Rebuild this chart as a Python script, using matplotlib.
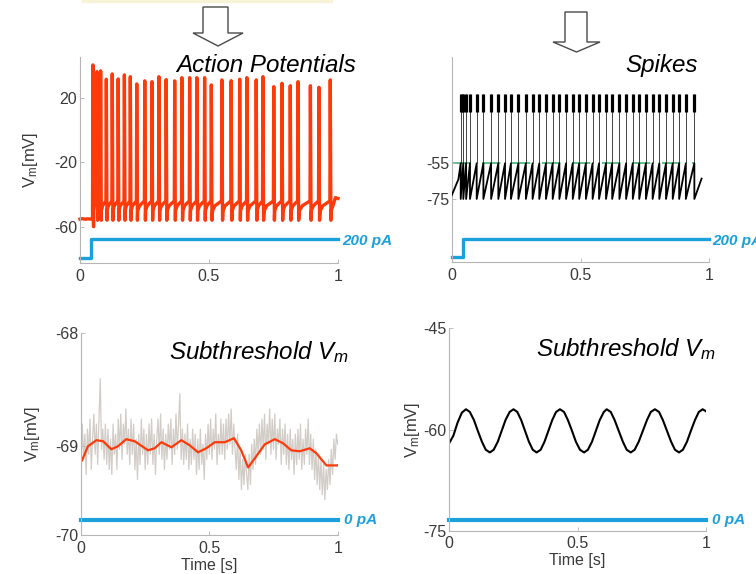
import numpy as np
import matplotlib
matplotlib.use('Agg')
import matplotlib.pyplot as plt
from matplotlib.patches import Polygon, Rectangle

plt.rcParams['font.family'] = ['Liberation Sans', 'DejaVu Sans']
plt.rcParams['mathtext.fontset'] = 'custom'
plt.rcParams['mathtext.rm'] = 'Liberation Sans'
plt.rcParams['mathtext.it'] = 'Liberation Sans:italic'

W, H = 756, 574
RED = '#ff3a0a'
BLUE = '#1aa0dc'
GRID = '#b5b5b5'
TXT = '#3a3a3a'

# --- action potentials (top left) ---
ap_times = [0.050, 0.066, 0.080, 0.102, 0.125, 0.148, 0.172, 0.195, 0.220, 0.251,
            0.279, 0.306, 0.334, 0.367, 0.395, 0.425, 0.453, 0.483, 0.509, 0.550,
            0.586, 0.619, 0.647, 0.683, 0.709, 0.751, 0.783, 0.815, 0.845, 0.893,
            0.926, 0.970]
ap_peaks = [40.3, 36.1, 36.6, 31.4, 34.7, 31.6, 34.1, 33.0, 28.5, 30.4,
            29.9, 33.0, 31.2, 30.4, 32.4, 32.4, 32.4, 32.4, 27.9, 31.0,
            30.5, 31.4, 32.4, 31.0, 33.0, 26.8, 28.9, 27.4, 29.9, 27.4,
            26.4, 31.0]
ap_base_t = [0.0, 0.010, 0.020, 0.030, 0.041]
ap_base_v = [-55.3, -55.0, -55.4, -55.1, -55.3]
ap_end_t = [0.990, 1.000]
ap_end_v = [-42.0, -42.5]
ap_rest, ap_pre, ap_ahp, ap_kink = -55.0, -44.0, -47.0, -50.0
ap_first_trough, ap_trough = -60.0, -56.0
ap_stim_t = [0.0, 0.041, 1.0]
ap_stim_v = [-79.2, -67.6, -67.6]

# --- integrate-and-fire spikes (top right) ---
sp_times = [0.035, 0.045, 0.056, 0.071, 0.097, 0.123, 0.153, 0.181, 0.207, 0.230,
            0.259, 0.288, 0.314, 0.340, 0.366, 0.392, 0.418, 0.444, 0.470, 0.495,
            0.521, 0.547, 0.572, 0.599, 0.623, 0.651, 0.677, 0.703, 0.728, 0.754,
            0.780, 0.806, 0.832, 0.858, 0.883, 0.909, 0.942]
sp_start_t = [0.0, 0.026]
sp_start_v = [-73.0, -64.0]
sp_end_t, sp_end_v = 0.970, -63.6
sp_thresh, sp_reset, sp_top, sp_bar = -55.0, -75.0, -16.1, -26.4
sp_stim_t = [0.0, 0.044, 1.0]
sp_stim_v = [-107.5, -97.4, -97.4]

# --- subthreshold recording (bottom left) ---
sub_raw = [
    -69.30, -68.90, -69.25, -69.00, -69.40, -68.95, -69.20, -68.85, -69.35, -69.05,
    -68.80, -69.20, -68.90, -69.30, -68.85, -68.45, -69.15, -68.95, -69.25, -68.90,
    -69.30, -68.95, -69.35, -69.05, -69.40, -68.90, -69.20, -69.00, -69.35, -68.85,
    -69.15, -68.80, -69.25, -68.90, -69.10, -68.75, -69.20, -68.95, -69.30, -68.85,
    -69.20, -68.90, -69.35, -69.05, -69.45, -69.00, -69.30, -68.85, -69.20, -68.95,
    -69.35, -69.00, -69.30, -68.90, -69.20, -68.85, -69.30, -69.00, -69.40, -69.05,
    -68.85, -69.20, -68.80, -69.25, -68.95, -69.35, -69.00, -69.25, -68.90, -69.15,
    -68.85, -69.30, -68.95, -69.20, -68.80, -69.15, -68.90, -68.60, -69.25, -68.95,
    -69.30, -69.00, -69.25, -68.90, -69.35, -69.05, -69.30, -68.95, -69.25, -69.00,
    -69.40, -69.05, -69.35, -68.95, -69.30, -69.10, -69.45, -69.00, -69.25, -68.90,
    -69.20, -68.85, -69.25, -68.95, -69.15, -68.80, -69.30, -69.00, -69.20, -68.85,
    -69.20, -68.90, -69.25, -68.85, -69.15, -68.80, -69.10, -68.75, -69.20, -68.90,
    -69.15, -69.35, -69.00, -69.45, -69.15, -69.55, -69.25, -69.50, -69.20, -69.40,
    -69.55, -69.20, -69.50, -69.10, -69.35, -69.05, -69.30, -68.95, -69.20, -68.90,
    -69.20, -68.85, -69.15, -68.80, -69.25, -68.90, -69.10, -68.75, -69.20, -68.85,
    -69.15, -68.80, -69.25, -68.95, -69.10, -68.85, -69.30, -68.95, -69.20, -68.90,
    -69.30, -69.00, -69.35, -68.95, -69.25, -69.05, -69.40, -69.00, -69.30, -68.95,
    -69.25, -68.90, -69.35, -69.05, -69.30, -68.95, -69.20, -68.85, -69.30, -69.00,
    -69.35, -69.05, -69.45, -69.15, -69.50, -69.20, -69.55, -69.25, -69.60, -69.30,
    -69.65, -69.35, -69.55, -69.25, -69.50, -69.15, -69.40, -69.05, -69.25, -69.00,
    -69.10]
sub_fit_t = [0.004, 0.027, 0.060, 0.086, 0.118, 0.144, 0.176, 0.209, 0.261, 0.287,
             0.313, 0.352, 0.391, 0.423, 0.456, 0.488, 0.521, 0.560, 0.596, 0.624,
             0.651, 0.677, 0.716, 0.755, 0.787, 0.819, 0.852, 0.891, 0.917, 0.956,
             0.998]
sub_fit_v = [-69.26, -69.12, -69.06, -69.07, -69.15, -69.12, -69.05, -69.07, -69.16, -69.14,
             -69.08, -69.13, -69.06, -69.11, -69.18, -69.14, -69.08, -69.08, -69.04, -69.16,
             -69.33, -69.24, -69.10, -69.05, -69.09, -69.16, -69.17, -69.14, -69.19, -69.31,
             -69.31]
sub_stim = -69.85

# --- model subthreshold oscillation (bottom right) ---
osc_t = [0.000, 0.016, 0.032, 0.049, 0.065, 0.080, 0.096, 0.111, 0.127, 0.142,
         0.158, 0.173, 0.189, 0.204, 0.219, 0.235, 0.250, 0.265, 0.280, 0.295,
         0.310, 0.325, 0.340, 0.356, 0.371, 0.386, 0.401, 0.416, 0.431, 0.447,
         0.462, 0.478, 0.493, 0.509, 0.525, 0.540, 0.556, 0.571, 0.586, 0.602,
         0.613, 0.629, 0.644, 0.660, 0.676, 0.691, 0.707, 0.722, 0.738, 0.754,
         0.770, 0.785, 0.801, 0.817, 0.832, 0.848, 0.864, 0.879, 0.895, 0.910,
         0.926, 0.941, 0.957, 0.972, 0.987, 1.000]
osc_v = [-62.0, -60.9, -59.0, -57.5, -57.0, -57.4, -58.6, -60.2, -61.8, -63.0,
         -63.4, -63.0, -61.8, -60.2, -58.6, -57.4, -57.0, -57.4, -58.6, -60.2,
         -61.8, -63.0, -63.4, -63.0, -61.8, -60.2, -58.6, -57.4, -57.0, -57.4,
         -58.6, -60.2, -61.8, -63.0, -63.4, -63.0, -61.8, -60.2, -58.6, -57.4,
         -57.0, -57.4, -58.6, -60.2, -61.8, -63.0, -63.4, -63.0, -61.8, -60.2,
         -58.6, -57.4, -57.0, -57.4, -58.6, -60.2, -61.8, -63.0, -63.4, -63.0,
         -61.8, -60.2, -58.6, -57.4, -57.0, -57.3]
osc_stim = -73.4


def box(x0, y0, x1, y1):
    return [x0 / W, 1 - y1 / H, (x1 - x0) / W, (y1 - y0) / H]


def pos(x, y):
    return x / W, 1 - y / H


def style(ax, yticks, ylabels, ylim):
    ax.set_xlim(0, 1)
    ax.set_ylim(*ylim)
    ax.patch.set_visible(False)
    for s in ['top', 'right']:
        ax.spines[s].set_visible(False)
    for s in ['left', 'bottom']:
        ax.spines[s].set_color(GRID)
        ax.spines[s].set_linewidth(0.8)
    ax.set_xticks([0, 0.5, 1], ['0', '0.5', '1'])
    ax.set_yticks(yticks, ylabels)
    ax.tick_params(direction='in', length=3, width=0.6, color=GRID,
                   labelcolor=TXT, labelsize=11.5)
    ax.tick_params(axis='x', pad=4)
    ax.tick_params(axis='y', pad=2)


def ap_trace():
    t, v = list(ap_base_t), list(ap_base_v)
    for i, (ts, pk) in enumerate(zip(ap_times, ap_peaks)):
        pre = ap_rest if i == 0 else ap_pre
        low = ap_first_trough if i == 0 else ap_trough
        nxt = ap_times[i + 1] if i + 1 < len(ap_times) else 1.0
        gap = nxt - ts
        t += [ts - 0.0015, ts, ts + 0.0025, ts + 0.12 * gap, ts + 0.35 * gap]
        v += [pre, pk, low, ap_kink, ap_ahp]
    return t + ap_end_t, v + ap_end_v


def sawtooth():
    t, v = list(sp_start_t), list(sp_start_v)
    for ts in sp_times:
        t += [ts, ts]
        v += [sp_thresh, sp_reset]
    return t + [sp_end_t], v + [sp_end_v]


fig = plt.figure(figsize=(7.56, 5.74), dpi=100)

# faint strip left over from the slide above
fig.patches.append(Rectangle(pos(82, 2), 250 / W, 2 / H, transform=fig.transFigure,
                             color='#f7f3d6', zorder=0))

# hollow arrows
for sx0, sx1, hx0, hx1, ytop, ybase, ytip in [(203, 228, 193, 243, 7, 33, 46),
                                              (565, 587, 553, 600, 12, 42, 52)]:
    mid = (hx0 + hx1) / 2
    pts = [pos(sx0, ytop), pos(sx1, ytop), pos(sx1, ybase), pos(hx1, ybase),
           pos(mid, ytip), pos(hx0, ybase), pos(sx0, ybase)]
    fig.patches.append(Polygon(pts, closed=True, fill=False, edgecolor='#4a4a4a',
                               lw=1.0, transform=fig.transFigure))

# top left: action potentials
ax1 = fig.add_axes(box(80, 57, 338, 263))
style(ax1, [-60, -20, 20], ['-60', '-20', '20'], (-82.5, 45.2))
t, v = ap_trace()
ax1.plot(t, v, color=RED, lw=2.4, solid_joinstyle='round', clip_on=False)
ax1.plot(ap_stim_t, ap_stim_v, drawstyle='steps-post', color=BLUE, lw=2.4, clip_on=False)
ax1.set_ylabel(r'V$_{\rm m}$[mV]', fontsize=12, color=TXT, labelpad=10)

# top right: spikes
ax2 = fig.add_axes(box(451.7, 57, 709.3, 262))
style(ax2, [-75, -55], ['-75', '-55'], (-110.3, 4.5))
ax2.plot([0, 0.945], [sp_thresh, sp_thresh], color='#3cb878', lw=1.2,
         dashes=(11, 7), zorder=1)
ax2.vlines(sp_times, sp_thresh, sp_top, color='#444444', lw=0.7, zorder=2)
t, v = sawtooth()
ax2.plot(t, v, color='black', lw=1.3, zorder=3)
ax2.vlines(sp_times, sp_bar, sp_top, color='black', lw=2.3, zorder=3)
ax2.plot(sp_stim_t, sp_stim_v, drawstyle='steps-post', color=BLUE, lw=2.4, clip_on=False)

# bottom left: recorded subthreshold Vm
ax3 = fig.add_axes(box(81, 333.3, 337.7, 535))
style(ax3, [-70, -69.115, -68], ['-70', '-69', '-68'], (-70, -68))
ax3.plot(np.linspace(0, 1, len(sub_raw)), sub_raw, color='#d2ccc7', lw=0.9, zorder=1)
ax3.plot(sub_fit_t, sub_fit_v, color=RED, lw=1.6, zorder=2)
ax3.plot([0, 1], [sub_stim, sub_stim], color=BLUE, lw=3.0, clip_on=False)
ax3.set_ylabel(r'V$_{\rm m}$[mV]', fontsize=12, color=TXT, labelpad=9)
ax3.set_xlabel('Time [s]', fontsize=11.5, color=TXT, labelpad=1.5)

# bottom right: model subthreshold Vm
ax4 = fig.add_axes(box(449.3, 328.3, 706, 530.7))
style(ax4, [-75, -60, -45], ['-75', '-60', '-45'], (-75, -45))
ax4.plot(osc_t, osc_v, color='black', lw=1.5)
ax4.plot([0, 1], [osc_stim, osc_stim], color=BLUE, lw=3.0, clip_on=False)
ax4.set_ylabel(r'V$_{\rm m}$[mV]', fontsize=12, color=TXT, labelpad=1)
ax4.set_xlabel('Time [s]', fontsize=11.5, color=TXT, labelpad=1)

# titles and current labels
fig.text(*pos(356, 66), 'Action Potentials', ha='right', va='center',
         fontsize=17.4, style='italic')
fig.text(*pos(698, 66), 'Spikes', ha='right', va='center', fontsize=17.4, style='italic')
fig.text(*pos(349, 352), r'Subthreshold $V_m$', ha='right', va='center',
         fontsize=17.4, style='italic')
fig.text(*pos(716, 349), r'Subthreshold $V_m$', ha='right', va='center',
         fontsize=17.4, style='italic')
for x, y, s in [(342, 241, '200 pA'), (712, 241, '200 pA'),
                (344, 520, '0 pA'), (712, 520, '0 pA')]:
    fig.text(*pos(x, y), s, ha='left', va='center', color=BLUE, fontsize=11,
             fontweight='bold', style='italic')

fig.savefig('out.png', dpi=100)
